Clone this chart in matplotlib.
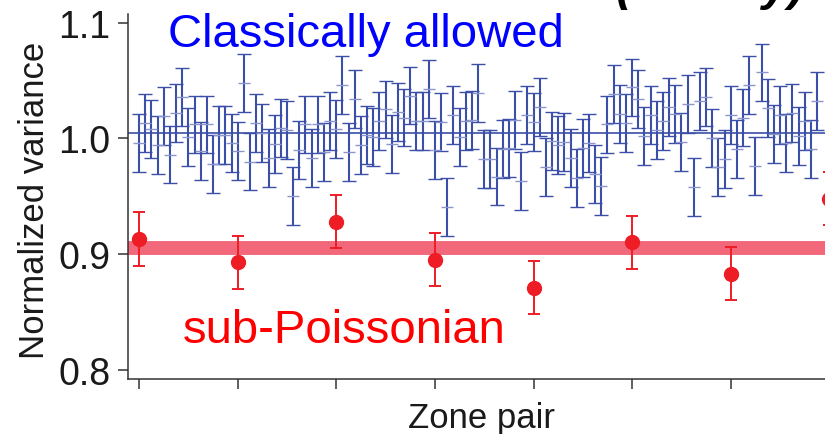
import numpy as np
import matplotlib.pyplot as plt

plt.rcParams['font.family'] = ['Liberation Sans', 'DejaVu Sans']

# blue: all zone pairs (classically allowed)
blue_vals = [
    0.996, 1.013, 1.008, 0.994, 1.019, 0.986, 1.022, 1.036, 1.001, 1.012,
    0.989, 1.012, 0.978, 1.003, 1.003, 0.996, 0.989, 1.048,
    0.980, 1.013, 1.005, 0.983, 0.995, 1.009, 1.007, 0.950, 0.990, 1.012,
    0.983, 1.012, 0.988, 1.015, 1.008, 1.046, 0.988, 1.034,
    0.994, 1.003, 1.001, 1.015, 1.025, 0.995, 1.023, 1.018, 1.037, 1.015,
    1.015, 1.043, 0.990, 1.014, 0.941, 1.020, 1.001, 1.015,
    1.016, 1.039, 0.982, 0.982, 0.967, 0.991, 0.992, 1.016, 0.963, 1.020,
    1.014, 1.027, 0.975, 0.998, 0.994, 0.997, 0.983, 0.966, 0.992, 0.996,
    0.969, 0.959, 1.012, 1.038, 1.021, 1.013, 1.044, 1.034, 1.002, 1.020,
    1.007, 1.015, 1.027, 1.021, 0.997, 1.030, 0.958, 1.032,
    1.036, 1.000, 0.975, 0.982, 1.020, 0.991, 1.018, 1.046, 0.976, 1.057,
    1.026, 1.004, 1.020, 0.996, 1.022, 1.002, 1.015, 0.991, 1.032,
]
blue_err = 0.025
blue_mean = 1.005

# red: selected zone pairs (sub-Poissonian)
red_step = 16
red_vals = [0.913, 0.893, 0.928, 0.895, 0.871, 0.910, 0.883, 0.948]
red_err = 0.023
red_mean = 0.905

yticks = [0.8, 0.9, 1.0, 1.1]

W, H = 825, 435
fig = plt.figure(figsize=(W / 100, H / 100), dpi=100)
ax = fig.add_axes([128 / W, 55 / H, 726 / W, 365 / H])

bx = np.arange(len(blue_vals))
rx = np.arange(len(red_vals)) * red_step

ax.axhline(red_mean, color='#f2677a', lw=10, zorder=1)
ax.axhline(blue_mean, color='#3b4fa8', lw=1.2, zorder=2)
ax.errorbar(bx, blue_vals, yerr=blue_err, fmt='_', color='#8a96cc', ecolor='#3b4fa8',
            elinewidth=1.5, capsize=5, capthick=1.5, markersize=8, mew=1.0,
            zorder=3)
ax.errorbar(rx, red_vals, yerr=red_err, fmt='o', color='#ee1c25', ecolor='#ee1c25',
            elinewidth=1.4, capsize=4.5, capthick=1.4, markersize=10, zorder=4,
            clip_on=False)

ax.set_xlim(-1.8, 116)
ax.set_ylim(0.792, 1.1075)
ax.set_yticks(yticks)
ax.set_yticklabels([f'{v:.1f}' for v in yticks])
ax.set_xticks(rx[:-1])
ax.set_xticklabels([])

for s in ['top', 'right']:
    ax.spines[s].set_visible(False)
for s in ['left', 'bottom']:
    ax.spines[s].set_linewidth(1.1)
    ax.spines[s].set_color('#333333')
ax.tick_params(axis='both', direction='out', length=7.5, width=1.1, color='#333333',
               labelsize=27, pad=5, labelcolor='#1a1a1a')

fig.text(168 / W, 1 - 47 / H, 'Classically allowed', color='#0000ff', fontsize=34,
         va='baseline')
fig.text(183 / W, 1 - 343 / H, 'sub-Poissonian', color='#ff0000', fontsize=34,
         va='baseline')
# title of the original panel, mostly above the crop
fig.text(615 / W, 1 - 10 / H, '(Theory)', color='black', fontsize=34, fontweight='bold',
         fontstyle='italic', va='bottom')
fig.text(35 / W, 1 - 200 / H, 'Normalized variance', rotation=90, fontsize=25,
         ha='center', va='center', color='#1a1a1a')
fig.text(482 / W, 1 - 428 / H, 'Zone pair', fontsize=25, ha='center', va='baseline',
         color='#1a1a1a')

fig.savefig('out.png', dpi=100)
